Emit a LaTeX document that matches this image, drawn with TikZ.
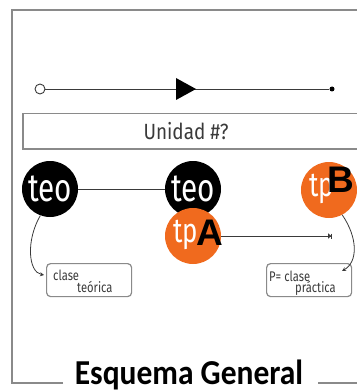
\documentclass[tikz,border=0pt]{standalone}
\usepackage{fontspec}
\usetikzlibrary{arrows.meta}
\newfontfamily\condfont[FakeStretch=0.8]{Fira Sans}
\newfontfamily\bannerfont[FakeStretch=0.86]{Fira Sans}
\newfontfamily\circfont[FakeStretch=0.76]{Fira Sans}
\newfontfamily\titlefont[FakeStretch=0.9]{Carlito}
\newfontfamily\letterfont{Liberation Sans}
\definecolor{tporange}{HTML}{F06A1E}
\definecolor{framegray}{HTML}{8A8A8A}
\definecolor{inkgray}{HTML}{3A3A3A}
\tikzset{
  frameline/.style={draw=framegray, line width=1.6pt},
  teonode/.style={circle, fill=black, minimum size=56pt, inner sep=0pt,
    text=white, font=\circfont\fontsize{39}{39}\selectfont},
  tpnode/.style={circle, fill=tporange, minimum size=56pt, inner sep=0pt},
  tptext/.style={inner sep=0pt, text=white, font=\circfont\fontsize{34}{34}\selectfont},
  bigletter/.style={anchor=base west, inner sep=0pt, text=black,
    font=\letterfont\bfseries\fontsize{37}{37}\selectfont},
  notebox/.style={draw=framegray, line width=1.2pt, rounded corners=4pt,
    minimum width=85pt, minimum height=33pt, inner sep=0pt},
  notetext/.style={text=inkgray, inner sep=0pt, anchor=base west,
    font=\condfont\fontsize{14}{14}\selectfont},
  link/.style={draw=inkgray, line width=0.8pt},
  curvearrow/.style={link, -{Stealth[length=4pt,width=4pt]}},
}
\begin{document}
\begin{tikzpicture}[x=1pt, y=-1pt]
\useasboundingbox (0,0) rectangle (356,390);

% outer frame, open at the title
\draw[frameline] (63,383) -| (12,10) -- (360,10);
\draw[frameline] (318,383) -- (360,383);
\node[anchor=base, inner sep=0pt, font=\titlefont\bfseries\fontsize{35}{35}\selectfont]
  (title) at (189,384) {Esquema General};

% timeline
\node[circle, draw=inkgray, line width=0.9pt, fill=white, minimum size=10pt, inner sep=0pt] (tstart) at (40,89) {};
\node[circle, fill=black, minimum size=5pt, inner sep=0pt] (tend) at (332,89) {};
\draw[link] (tstart) -- (tend);
\fill (176,78) -- (196,89) -- (176,100) -- cycle;

% unit banner
\node[draw=framegray, line width=1.5pt, anchor=north west, minimum width=345pt,
  minimum height=35pt, inner sep=0pt] (unidad) at (22,113) {};
\node[text=inkgray, inner sep=0pt, font=\bannerfont\fontsize{22}{22}\selectfont]
  (unidadtxt) at (186,131) {Unidad \#?};

% class circles
\node[teonode] (teoL) at (50,189) {teo};
\node[teonode] (teoM) at (193,189) {teo};
\node[tpnode] (tpA) at (193,236) {};
\node[tpnode] (tpB) at (329,190) {};
\node[tptext] (tpAtxt) at (186,235) {tp};
\node[tptext] (tpBtxt) at (322,189) {tp};
\node[bigletter] (lblA) at (196,245) {A};
\node[bigletter] (lblB) at (327,192) {B};
\draw[link] (teoL) -- (teoM);

\coordinate (tpend) at (332,236);
\draw[link, -{Triangle[length=3pt,width=5pt]Bar[width=5pt]}] (tpA) -- (tpend);

% explanatory notes
\node[notebox, anchor=north west] (noteT) at (46,263) {};
\node[notetext] (noteTa) at (53,280) {clase};
\node[notetext] (noteTb) at (77,292) {teórica};

\node[notebox, anchor=north west] (noteP) at (266,263) {};
\node[notetext] (notePa) at (269,281) {P= clase};
\node[notetext] (notePb) at (295,292) {práctica};

\coordinate (pinT) at (44,275);
\coordinate (pinP) at (342,271);
\draw[curvearrow] (teoL.-110) .. controls (26,240) and (28,272) .. (pinT);
\draw[curvearrow] (tpB.-62) .. controls (358,238) and (358,262) .. (pinP);
\end{tikzpicture}
\end{document}
